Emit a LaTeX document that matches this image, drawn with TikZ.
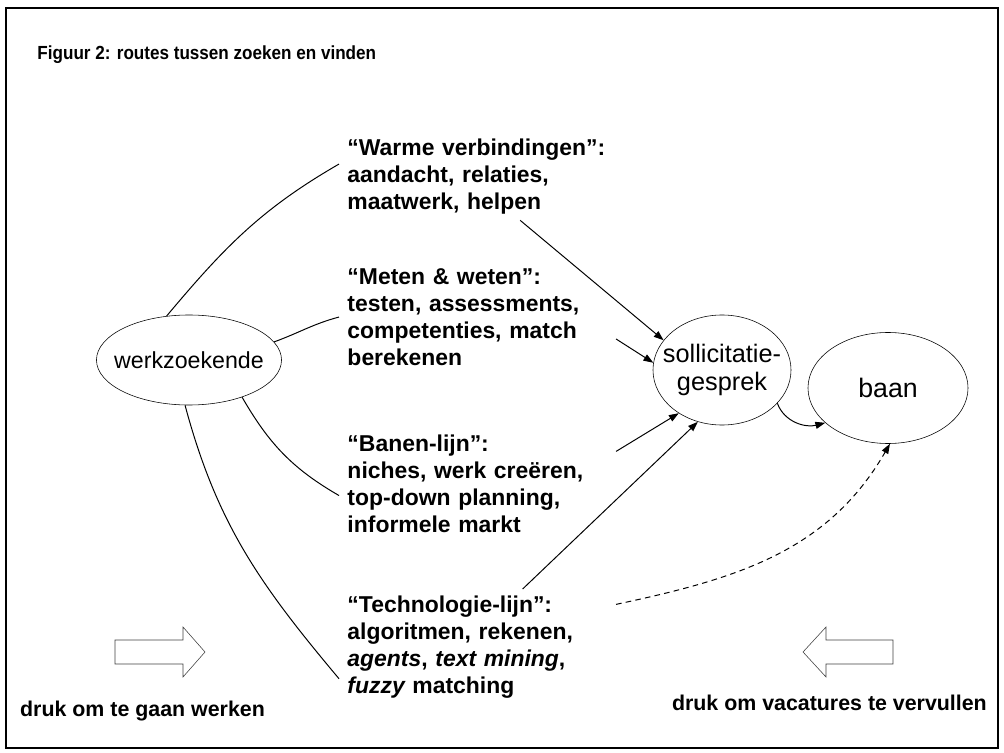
\documentclass[tikz,border=0pt]{standalone}
\usepackage{fontspec}
\usepackage{graphicx}
\setmainfont{Liberation Sans}
\usetikzlibrary{shapes.geometric, arrows.meta, positioning}

\newcommand{\ctr}[1]{\makebox[0pt]{#1}}

\tikzset{
  oval/.style={ellipse, draw, thin, inner sep=0pt},
  route/.style={anchor=north west, align=left, text width=6.5cm, inner xsep=0.2cm,
    inner ysep=0.15cm, font=\bfseries\fontsize{16.3}{19.2}\selectfont},
  push/.style={draw=black!75, thin, fill=white},
  label/.style={font=\bfseries\fontsize{15.2}{18}\selectfont}
}

\begin{document}
\begin{tikzpicture}[x=0.025cm, y=0.025cm, >={Triangle[length=7pt, width=5pt]}, line width=0.7pt]
  \useasboundingbox (0,0) rectangle (1004,-753);
  \draw[thick] (6,-8) rectangle (998,-748);

  \node[anchor=west, inner sep=0pt, font=\bfseries\fontsize{13.5}{16}\selectfont] (title) at (37,-55)
    {\scalebox{0.9}[1]{Figuur 2: routes tussen zoeken en vinden}};

  % the three ellipses
  \node[oval, minimum width=4.625cm, minimum height=2.25cm, font=\fontsize{16.5}{19}\selectfont]
    (wz) at (189,-360) {\ctr{werkzoekende}};
  \node[oval, minimum width=3.45cm, minimum height=2.75cm, align=center,
    font=\fontsize{18}{20}\selectfont] (gesprek) at (722,-370) {\ctr{sollicitatie-}\\\ctr{gesprek}};
  \node[oval, minimum width=4cm, minimum height=2.775cm, font=\fontsize{19}{22}\selectfont]
    (baan) at (888,-388) {\ctr{baan}};

  % the four routes
  \node[route] (warm) at (339,-132) {``Warme verbindingen'':\\aandacht, relaties,\\maatwerk, helpen};
  \node[route] (meten) at (339,-262) {``Meten \& weten'':\\testen, assessments,\\competenties, match\\berekenen};
  \node[route] (banen) at (339,-428) {``Banen-lijn'':\\niches, werk cre\"eren,\\top-down planning,\\informele markt};
  \node[route] (tech) at (339,-589) {``Technologie-lijn'':\\algoritmen, rekenen,\\{\itshape agents}, {\itshape text mining},\\{\itshape fuzzy} matching};

  \draw (wz.117) to[out=50, in=210] (warm.175);
  \draw[->] (warm.-46) -- (gesprek.153);
  \draw (wz.12) to[out=20, in=195] (meten.180);
  \draw[->] (meten.-9) -- (gesprek.174);
  \draw (wz.-35) to[out=-60, in=150] (banen.185);
  \draw[->] (banen.13) -- (gesprek.225);
  \draw (wz.-95) to[out=-75, in=130] (tech.193);
  \draw[->] (tech.52) -- (gesprek.245);
  \draw[->, dash pattern=on 4pt off 3pt] (tech.17) to[out=12, in=-120] (baan.-88);
  \draw[->] (gesprek.-31) to[out=-70, in=195] (baan.209);

  % pressure arrows
  \draw[push] (115,-640) -- (183,-640) -- (183,-627) -- (205,-652) -- (183,-677)
    -- (183,-664) -- (115,-664) -- cycle;
  \draw[push] (893,-640) -- (826,-640) -- (826,-627) -- (803,-652) -- (826,-677)
    -- (826,-664) -- (893,-664) -- cycle;

  \node[label, anchor=west] (werken) at (15,-711) {druk om te gaan werken};
  \node[label, anchor=east] (vullen) at (992,-703) {druk om vacatures te vervullen};
\end{tikzpicture}
\end{document}
